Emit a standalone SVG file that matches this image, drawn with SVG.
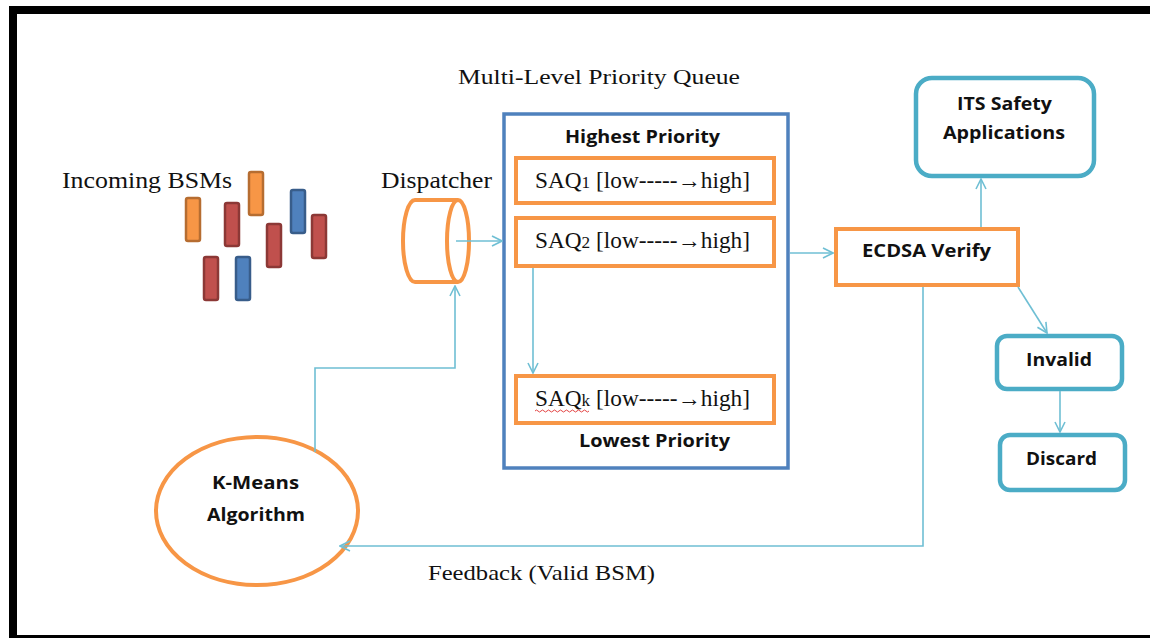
<svg xmlns="http://www.w3.org/2000/svg" width="1150" height="638" viewBox="0 0 1150 638">
  <style>
    .serif { font-family: "Liberation Serif", "Times New Roman", serif; fill: #111; }
    .bold { font-family: "Open Sans", "Liberation Sans", Arial, sans-serif; font-weight: bold; fill: #111; }
    .orange { fill: #fff; stroke: #f79646; stroke-width: 4; }
    .teal { fill: #fff; stroke: #4bacc6; stroke-width: 4.5; }
    .link { fill: none; stroke: #6fbfd4; stroke-width: 1.6; }
    .bar-o { fill: #f79646; stroke: #b66d31; stroke-width: 2.5; }
    .bar-r { fill: #c0504d; stroke: #8c3836; stroke-width: 2.5; }
    .bar-b { fill: #4f81bd; stroke: #385d8a; stroke-width: 2.5; }
  </style>
  <defs>
    <marker id="arrow" viewBox="0 0 12 12" refX="11" refY="6" markerWidth="12" markerHeight="12" markerUnits="userSpaceOnUse" orient="auto">
      <path d="M1,1 L11,6 L1,11" fill="none" stroke="#6fbfd4" stroke-width="1.6"/>
    </marker>
  </defs>

  <rect width="1150" height="638" fill="#fff"/>

  <!-- page frame -->
  <g id="frame" fill="#000">
    <rect x="9" y="6" width="1141" height="8"/>
    <rect x="9" y="6" width="8" height="632"/>
    <rect x="9" y="635" width="1141" height="3"/>
  </g>

  <!-- incoming messages -->
  <g id="incoming">
    <text class="serif" x="62" y="188" font-size="23" textLength="170" lengthAdjust="spacingAndGlyphs">Incoming BSMs</text>
    <rect class="bar-o" x="186" y="198" width="14" height="43" rx="2"/>
    <rect class="bar-o" x="249" y="172" width="14" height="43" rx="2"/>
    <rect class="bar-r" x="225" y="203" width="14" height="43" rx="2"/>
    <rect class="bar-b" x="291" y="190" width="14" height="43" rx="2"/>
    <rect class="bar-r" x="267" y="224" width="14" height="43" rx="2"/>
    <rect class="bar-r" x="312" y="215" width="14" height="43" rx="2"/>
    <rect class="bar-r" x="204" y="257" width="14" height="43" rx="2"/>
    <rect class="bar-b" x="236" y="257" width="14" height="43" rx="2"/>
  </g>

  <!-- dispatcher drum -->
  <g id="dispatcher">
    <text class="serif" x="381" y="188" font-size="23" textLength="111" lengthAdjust="spacingAndGlyphs">Dispatcher</text>
    <path d="M458,200 L415,200 A12,41 0 0 0 415,282 L458,282" fill="none" stroke="#f79646" stroke-width="4"/>
    <ellipse cx="458" cy="241" rx="11" ry="41" fill="none" stroke="#f79646" stroke-width="4"/>
  </g>

  <!-- priority queue -->
  <g id="queue">
    <text class="serif" x="458" y="84" font-size="22" textLength="282" lengthAdjust="spacingAndGlyphs">Multi-Level Priority Queue</text>
    <rect x="504" y="114" width="284" height="354" fill="none" stroke="#4f81bd" stroke-width="3.5"/>
    <text class="bold" x="565" y="143" font-size="17" textLength="155" lengthAdjust="spacingAndGlyphs">Highest Priority</text>
    <text class="bold" x="579" y="447" font-size="17" textLength="151" lengthAdjust="spacingAndGlyphs">Lowest Priority</text>
  </g>
  <g id="saq1">
    <rect class="orange" x="516" y="158" width="258" height="45"/>
    <text class="serif" x="535" y="188" font-size="23" textLength="215" lengthAdjust="spacingAndGlyphs">SAQ<tspan font-size="17">1</tspan> [low-----→high]</text>
  </g>
  <g id="saq2">
    <rect class="orange" x="516" y="218" width="258" height="48"/>
    <text class="serif" x="535" y="248" font-size="23" textLength="215" lengthAdjust="spacingAndGlyphs">SAQ<tspan font-size="17">2</tspan> [low-----→high]</text>
  </g>
  <g id="saqk">
    <rect class="orange" x="516" y="376" width="258" height="47"/>
    <text class="serif" x="535" y="406" font-size="23" textLength="215" lengthAdjust="spacingAndGlyphs">SAQ<tspan font-size="17">k</tspan> [low-----→high]</text>
    <path d="M535,411 q1.5,-2 3,0 t3,0 t3,0 t3,0 t3,0 t3,0 t3,0 t3,0 t3,0 t3,0 t3,0 t3,0 t3,0 t3,0 t3,0 t3,0 t3,0 t3,0" fill="none" stroke="#e03030" stroke-width="0.9"/>
  </g>

  <!-- verification -->
  <g id="ecdsa">
    <rect class="orange" x="836" y="229" width="182" height="56"/>
    <text class="bold" x="862" y="257" font-size="17.5" textLength="129" lengthAdjust="spacingAndGlyphs">ECDSA Verify</text>
  </g>
  <g id="its">
    <rect class="teal" x="916" y="78" width="178" height="98" rx="16"/>
    <text class="bold" x="957" y="110" font-size="17.5" textLength="95" lengthAdjust="spacingAndGlyphs">ITS Safety</text>
    <text class="bold" x="943" y="139" font-size="17.5" textLength="122" lengthAdjust="spacingAndGlyphs">Applications</text>
  </g>
  <g id="invalid">
    <rect class="teal" x="997" y="336" width="125" height="53" rx="10"/>
    <text class="bold" x="1026" y="366" font-size="17.5" textLength="66" lengthAdjust="spacingAndGlyphs">Invalid</text>
  </g>
  <g id="discard">
    <rect class="teal" x="1000" y="435" width="125" height="55" rx="10"/>
    <text class="bold" x="1026" y="465" font-size="17.5" textLength="71" lengthAdjust="spacingAndGlyphs">Discard</text>
  </g>

  <!-- clustering -->
  <g id="kmeans">
    <ellipse cx="257" cy="511" rx="101" ry="74" fill="#fff" stroke="#f79646" stroke-width="4"/>
    <text class="bold" x="212" y="489" font-size="17.5" textLength="87" lengthAdjust="spacingAndGlyphs">K-Means</text>
    <text class="bold" x="207" y="521" font-size="17.5" textLength="98" lengthAdjust="spacingAndGlyphs">Algorithm</text>
  </g>

  <text class="serif" x="428" y="580" font-size="22" textLength="227" lengthAdjust="spacingAndGlyphs">Feedback (Valid BSM)</text>

  <!-- connectors -->
  <g id="connectors">
    <line class="link" x1="456" y1="241" x2="502" y2="241" marker-end="url(#arrow)"/>
    <line class="link" x1="533" y1="268" x2="533" y2="373" marker-end="url(#arrow)"/>
    <line class="link" x1="790" y1="253" x2="833" y2="253" marker-end="url(#arrow)"/>
    <line class="link" x1="981" y1="227" x2="981" y2="179" marker-end="url(#arrow)"/>
    <line class="link" x1="1018" y1="287" x2="1047" y2="333" marker-end="url(#arrow)"/>
    <line class="link" x1="1060" y1="391" x2="1060" y2="432" marker-end="url(#arrow)"/>
    <polyline class="link" points="923,287 923,546 340,546" marker-end="url(#arrow)"/>
    <polyline class="link" points="315,452 315,368 455,368 455,286" marker-end="url(#arrow)"/>
  </g>
</svg>
